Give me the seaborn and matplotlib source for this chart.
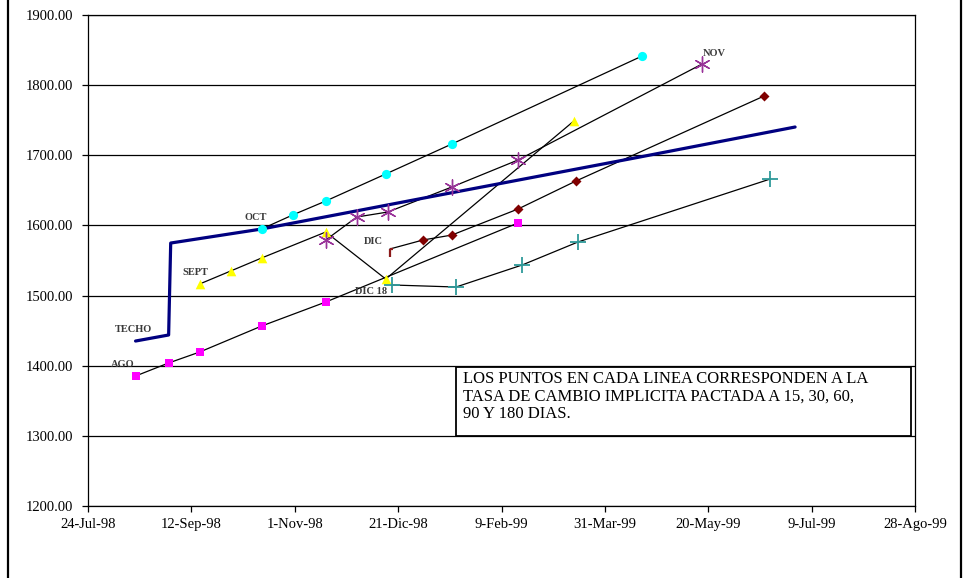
import matplotlib
matplotlib.use("Agg")
import matplotlib.pyplot as plt
from matplotlib.patches import Rectangle
from matplotlib.lines import Line2D
from matplotlib.path import Path
import pandas as pd
import seaborn as sns

# Ceiling of the exchange-rate band
techo_dates = ["1998-08-16", "1998-09-01", "1998-09-02", "1998-10-16",
               "1999-01-05", "1999-04-17", "1999-07-01"]
techo_vals = [1435.2, 1443.8, 1574.9, 1594.9, 1640.5, 1697.6, 1740.3]

# Spot rate plus implicit forward rates at 15, 30, 60, 90 and 180 days
ago_dates = ["1998-08-16", "1998-09-01", "1998-09-16", "1998-10-16", "1998-11-16", "1999-02-17"]
ago_vals = [1385.3, 1403.9, 1419.5, 1456.6, 1490.8, 1603.5]

sept_dates = ["1998-09-16", "1998-10-01", "1998-10-16", "1998-11-16", "1998-12-15", "1999-03-16"]
sept_vals = [1516.5, 1535.0, 1553.6, 1590.6, 1523.6, 1748.9]

oct_dates = ["1998-10-16", "1998-10-31", "1998-11-16", "1998-12-15", "1999-01-16", "1999-04-18"]
oct_vals = [1594.9, 1614.9, 1634.8, 1673.3, 1716.1, 1841.5]

nov_dates = ["1998-11-16", "1998-12-01", "1998-12-16", "1999-01-16", "1999-02-17", "1999-05-17"]
nov_vals = [1579.2, 1612.0, 1619.1, 1654.8, 1693.3, 1830.1]

dic_dates = ["1998-12-17", "1999-01-02", "1999-01-16", "1999-02-17", "1999-03-17", "1999-06-16"]
dic_vals = [1566.4, 1579.2, 1586.3, 1623.4, 1663.3, 1784.5]

dic18_dates = ["1998-12-18", "1999-01-18", "1999-02-19", "1999-03-18", "1999-06-19"]
dic18_vals = [1515.1, 1512.2, 1543.6, 1576.4, 1666.2]

tick_dates = ["1998-07-24", "1998-09-12", "1998-11-01", "1998-12-21", "1999-02-09",
              "1999-03-31", "1999-05-20", "1999-07-09", "1999-08-28"]
tick_labels = ["24-Jul-98", "12-Sep-98", "1-Nov-98", "21-Dic-98", "9-Feb-99",
               "31-Mar-99", "20-May-99", "9-Jul-99", "28-Ago-99"]
y_ticks = [1200, 1300, 1400, 1500, 1600, 1700, 1800, 1900]

note = ("LOS PUNTOS EN CADA LINEA CORRESPONDEN A LA\n"
        "TASA DE CAMBIO IMPLICITA PACTADA A 15, 30, 60,\n"
        "90 Y 180 DIAS.")

sns.set_theme(style="white")
plt.rcParams["font.family"] = ["Liberation Serif", "DejaVu Serif"]

W, H = 963, 578
fig = plt.figure(figsize=(W / 100, H / 100), dpi=100)
ax = fig.add_axes([88 / W, 1 - 506 / H, 827 / W, 491 / H])

dt = pd.to_datetime

# (dates, values, marker, colour, size, line width for unfilled markers)
series = [
    (ago_dates, ago_vals, "s", "#FF00FF", 34, 0.0),
    (sept_dates, sept_vals, "^", "#FFFF00", 48, 0.0),
    (oct_dates, oct_vals, "o", "#00FFFF", 44, 0.0),
    (nov_dates, nov_vals, (6, 2, 0), "#993399", 120, 1.0),
    (dic_dates[1:], dic_vals[1:], "D", "#800000", 26, 0.0),
    (dic18_dates, dic18_vals, "+", "#2E9A9A", 120, 1.3),
]

# thin black connecting lines
for d, v in [(ago_dates, ago_vals), (sept_dates, sept_vals), (oct_dates, oct_vals),
             (nov_dates, nov_vals), (dic_dates, dic_vals), (dic18_dates, dic18_vals)]:
    sns.lineplot(x=dt(d), y=v, sort=False, estimator=None, color="black",
                 linewidth=0.9, ax=ax, zorder=3)

# band ceiling
sns.lineplot(x=dt(techo_dates), y=techo_vals, sort=False, estimator=None,
             color="#000080", linewidth=2.3, ax=ax, zorder=4)

# markers
for d, v, m, c, s, lw in series:
    if lw > 0:
        ax.scatter(dt(d), v, marker=m, s=s, color=c, linewidths=lw, zorder=5)
    else:
        sns.scatterplot(x=dt(d), y=v, marker=m, s=s, color=c, edgecolor=c,
                        linewidth=0, ax=ax, zorder=5)

# first DIC point drawn as a small bracket-like tick
gamma = Path([(0, 0), (0, -1), (0, 0), (0.35, 0)],
             [Path.MOVETO, Path.LINETO, Path.MOVETO, Path.LINETO])
ax.scatter(dt(dic_dates[:1]), dic_vals[:1], marker=gamma, s=130, color="#8B1A1A",
           linewidths=1.6, zorder=5)

# axes and grid
ax.set_xlim(dt("1998-07-24"), dt("1999-08-28"))
ax.set_ylim(1200, 1900)
ax.set_xticks(dt(tick_dates))
ax.set_xticklabels(tick_labels)
ax.set_yticks(y_ticks)
ax.set_yticklabels([f"{t:.2f}" for t in y_ticks])
ax.set_xlabel("")
ax.set_ylabel("")
ax.yaxis.grid(True, color="black", linewidth=0.9, zorder=1)
ax.xaxis.grid(False)
ax.set_axisbelow(True)
for sp in ax.spines.values():
    sp.set_color("black")
    sp.set_linewidth(0.9)
ax.tick_params(axis="both", which="major", direction="out", length=4.5, width=0.9,
               color="black", labelsize=10.5, labelcolor="black")
ax.tick_params(axis="y", pad=6)
ax.tick_params(axis="x", pad=4)
ax.yaxis.set_ticks_position("left")
ax.xaxis.set_ticks_position("bottom")

# series labels
lab = dict(fontsize=7.5, fontweight="bold", color="#3A3A3A", ha="center", va="center", zorder=6)
ax.text(dt("1998-08-10"), 1402.4, "AGO", **lab)
ax.text(dt("1998-08-15"), 1452.3, "TECHO", **lab)
ax.text(dt("1998-09-14"), 1533.6, "SEPT", **lab)
ax.text(dt("1998-10-13"), 1612.0, "OCT", **lab)
ax.text(dt("1998-12-09"), 1576.4, "DIC", **lab)
ax.text(dt("1998-12-08"), 1505.1, "DIC 18", **lab)
ax.text(dt("1999-05-23"), 1844.4, "NOV", **lab)

# explanatory note box
x0, x1 = (456 - 88) / 827, (911 - 88) / 827
y0, y1 = (506 - 436) / 491, (506 - 367) / 491
ax.add_patch(Rectangle((x0, y0), x1 - x0, y1 - y0, transform=ax.transAxes,
                       facecolor="white", edgecolor="black", linewidth=1.3, zorder=7))
ax.text(x0 + 7 / 827, y1 - 4 / 491, note, transform=ax.transAxes, ha="left", va="top",
        fontsize=12, color="black", linespacing=1.12, zorder=8)

# outer frame of the chart object
fig.add_artist(Line2D([7.5 / W, 7.5 / W], [0, 1], transform=fig.transFigure,
                      color="black", linewidth=1.6))
fig.add_artist(Line2D([960.5 / W, 960.5 / W], [0, 1], transform=fig.transFigure,
                      color="black", linewidth=1.6))

fig.savefig("out.png", dpi=100, facecolor="white")
